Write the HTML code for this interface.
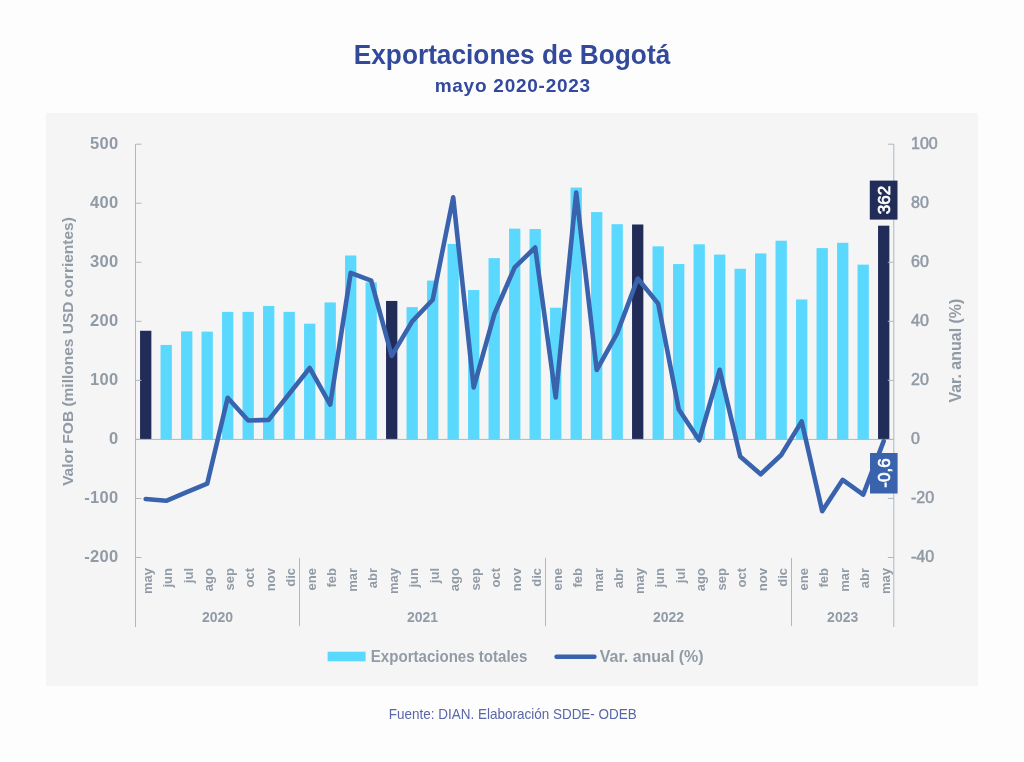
<!DOCTYPE html>
<html><head><meta charset="utf-8"><style>
html,body{margin:0;padding:0;background:#fdfdfd;width:1024px;height:762px;overflow:hidden}
svg{display:block;will-change:transform;font-family:"Liberation Sans",sans-serif}
.lt{font-size:16.5px;font-weight:bold;fill:#919ba6;letter-spacing:0.3px}
.rt{font-size:16px;font-weight:normal;fill:#919ba6;stroke:#919ba6;stroke-width:0.55px}
.mt{font-size:13px;font-weight:bold;fill:#919ba6}
.yt{font-size:14px;font-weight:bold;fill:#919ba6}
.bl{font-size:17px;font-weight:normal;fill:#fff;stroke:#fff;stroke-width:0.7px}
.at{font-size:15.5px;font-weight:bold;fill:#919ba6}
.at2{font-size:16px;font-weight:bold;fill:#919ba6}
.lg{font-size:16.3px;font-weight:bold;fill:#919ba6}
.lg1{letter-spacing:-0.25px}
.lg2{letter-spacing:0.2px}
.title{font-size:27.5px;font-weight:bold;fill:#33499b}
.sub{font-size:19px;font-weight:bold;fill:#33499b;letter-spacing:0.75px}
.src{font-size:15px;fill:#5967a8}
</style></head><body>
<svg width="1024" height="762" viewBox="0 0 1024 762">
<rect x="0" y="0" width="1024" height="762" fill="#fdfdfd"/>
<rect x="46" y="113" width="932" height="573" fill="#f5f5f5"/>
<text transform="translate(512,64.3) scale(0.955,1)" text-anchor="middle" class="title">Exportaciones de Bogotá</text>
<text x="512.8" y="91.9" text-anchor="middle" class="sub">mayo 2020-2023</text>
<rect x="140.05" y="330.77" width="11.3" height="108.63" fill="#212c58"/>
<rect x="160.55" y="344.94" width="11.3" height="94.46" fill="#5bd8fd"/>
<rect x="181.05" y="331.36" width="11.3" height="108.04" fill="#5bd8fd"/>
<rect x="201.55" y="331.65" width="11.3" height="107.75" fill="#5bd8fd"/>
<rect x="222.05" y="311.87" width="11.3" height="127.53" fill="#5bd8fd"/>
<rect x="242.55" y="311.87" width="11.3" height="127.53" fill="#5bd8fd"/>
<rect x="263.05" y="305.97" width="11.3" height="133.43" fill="#5bd8fd"/>
<rect x="283.55" y="311.87" width="11.3" height="127.53" fill="#5bd8fd"/>
<rect x="304.05" y="323.68" width="11.3" height="115.72" fill="#5bd8fd"/>
<rect x="324.55" y="302.43" width="11.3" height="136.97" fill="#5bd8fd"/>
<rect x="345.05" y="255.49" width="11.3" height="183.91" fill="#5bd8fd"/>
<rect x="365.55" y="282.35" width="11.3" height="157.05" fill="#5bd8fd"/>
<rect x="386.05" y="300.95" width="11.3" height="138.45" fill="#212c58"/>
<rect x="406.55" y="307.15" width="11.3" height="132.25" fill="#5bd8fd"/>
<rect x="427.05" y="280.58" width="11.3" height="158.82" fill="#5bd8fd"/>
<rect x="447.55" y="243.98" width="11.3" height="195.42" fill="#5bd8fd"/>
<rect x="468.05" y="290.03" width="11.3" height="149.37" fill="#5bd8fd"/>
<rect x="488.55" y="258.15" width="11.3" height="181.25" fill="#5bd8fd"/>
<rect x="509.05" y="228.63" width="11.3" height="210.77" fill="#5bd8fd"/>
<rect x="529.55" y="229.04" width="11.3" height="210.36" fill="#5bd8fd"/>
<rect x="550.05" y="307.74" width="11.3" height="131.66" fill="#5bd8fd"/>
<rect x="570.55" y="187.54" width="11.3" height="251.86" fill="#5bd8fd"/>
<rect x="591.05" y="212.10" width="11.3" height="227.30" fill="#5bd8fd"/>
<rect x="611.55" y="224.20" width="11.3" height="215.20" fill="#5bd8fd"/>
<rect x="632.05" y="224.49" width="11.3" height="214.91" fill="#212c58"/>
<rect x="652.55" y="246.34" width="11.3" height="193.06" fill="#5bd8fd"/>
<rect x="673.05" y="264.05" width="11.3" height="175.35" fill="#5bd8fd"/>
<rect x="693.55" y="244.27" width="11.3" height="195.13" fill="#5bd8fd"/>
<rect x="714.05" y="254.60" width="11.3" height="184.80" fill="#5bd8fd"/>
<rect x="734.55" y="268.77" width="11.3" height="170.63" fill="#5bd8fd"/>
<rect x="755.05" y="253.42" width="11.3" height="185.98" fill="#5bd8fd"/>
<rect x="775.55" y="240.73" width="11.3" height="198.67" fill="#5bd8fd"/>
<rect x="796.05" y="299.48" width="11.3" height="139.92" fill="#5bd8fd"/>
<rect x="816.55" y="248.11" width="11.3" height="191.29" fill="#5bd8fd"/>
<rect x="837.05" y="242.80" width="11.3" height="196.60" fill="#5bd8fd"/>
<rect x="857.55" y="264.64" width="11.3" height="174.76" fill="#5bd8fd"/>
<rect x="878.05" y="225.68" width="11.3" height="213.72" fill="#212c58"/>
<line x1="135.5" y1="439.4" x2="893.8" y2="439.4" stroke="#b0b7be" stroke-width="1"/>
<line x1="135.5" y1="144" x2="135.5" y2="627" stroke="#b0b7be" stroke-width="1"/>
<line x1="893.8" y1="144" x2="893.8" y2="627" stroke="#b0b7be" stroke-width="1"/>
<line x1="135.5" y1="144.20" x2="141.5" y2="144.20" stroke="#b0b7be" stroke-width="1"/>
<line x1="887.8" y1="144.20" x2="893.8" y2="144.20" stroke="#b0b7be" stroke-width="1"/>
<text x="118.5" y="149.10" text-anchor="end" class="lt">500</text>
<text x="911" y="149.20" class="rt">100</text>
<line x1="135.5" y1="203.24" x2="141.5" y2="203.24" stroke="#b0b7be" stroke-width="1"/>
<line x1="887.8" y1="203.24" x2="893.8" y2="203.24" stroke="#b0b7be" stroke-width="1"/>
<text x="118.5" y="208.14" text-anchor="end" class="lt">400</text>
<text x="911" y="208.24" class="rt">80</text>
<line x1="135.5" y1="262.28" x2="141.5" y2="262.28" stroke="#b0b7be" stroke-width="1"/>
<line x1="887.8" y1="262.28" x2="893.8" y2="262.28" stroke="#b0b7be" stroke-width="1"/>
<text x="118.5" y="267.18" text-anchor="end" class="lt">300</text>
<text x="911" y="267.28" class="rt">60</text>
<line x1="135.5" y1="321.32" x2="141.5" y2="321.32" stroke="#b0b7be" stroke-width="1"/>
<line x1="887.8" y1="321.32" x2="893.8" y2="321.32" stroke="#b0b7be" stroke-width="1"/>
<text x="118.5" y="326.22" text-anchor="end" class="lt">200</text>
<text x="911" y="326.32" class="rt">40</text>
<line x1="135.5" y1="380.36" x2="141.5" y2="380.36" stroke="#b0b7be" stroke-width="1"/>
<line x1="887.8" y1="380.36" x2="893.8" y2="380.36" stroke="#b0b7be" stroke-width="1"/>
<text x="118.5" y="385.26" text-anchor="end" class="lt">100</text>
<text x="911" y="385.36" class="rt">20</text>
<line x1="135.5" y1="439.40" x2="141.5" y2="439.40" stroke="#b0b7be" stroke-width="1"/>
<line x1="887.8" y1="439.40" x2="893.8" y2="439.40" stroke="#b0b7be" stroke-width="1"/>
<text x="118.5" y="444.30" text-anchor="end" class="lt">0</text>
<text x="911" y="444.40" class="rt">0</text>
<line x1="135.5" y1="498.44" x2="141.5" y2="498.44" stroke="#b0b7be" stroke-width="1"/>
<line x1="887.8" y1="498.44" x2="893.8" y2="498.44" stroke="#b0b7be" stroke-width="1"/>
<text x="118.5" y="503.34" text-anchor="end" class="lt">-100</text>
<text x="911" y="503.44" class="rt">-20</text>
<line x1="135.5" y1="557.48" x2="141.5" y2="557.48" stroke="#b0b7be" stroke-width="1"/>
<line x1="887.8" y1="557.48" x2="893.8" y2="557.48" stroke="#b0b7be" stroke-width="1"/>
<text x="118.5" y="562.38" text-anchor="end" class="lt">-200</text>
<text x="911" y="562.48" class="rt">-40</text>
<line x1="299.5" y1="558" x2="299.5" y2="626" stroke="#b0b7be" stroke-width="1"/>
<line x1="545.5" y1="558" x2="545.5" y2="626" stroke="#b0b7be" stroke-width="1"/>
<line x1="791.5" y1="558" x2="791.5" y2="626" stroke="#b0b7be" stroke-width="1"/>
<text transform="translate(151.70,568) rotate(-90)" text-anchor="end" class="mt">may</text>
<text transform="translate(172.20,568) rotate(-90)" text-anchor="end" class="mt">jun</text>
<text transform="translate(192.70,568) rotate(-90)" text-anchor="end" class="mt">jul</text>
<text transform="translate(213.20,568) rotate(-90)" text-anchor="end" class="mt">ago</text>
<text transform="translate(233.70,568) rotate(-90)" text-anchor="end" class="mt">sep</text>
<text transform="translate(254.20,568) rotate(-90)" text-anchor="end" class="mt">oct</text>
<text transform="translate(274.70,568) rotate(-90)" text-anchor="end" class="mt">nov</text>
<text transform="translate(295.20,568) rotate(-90)" text-anchor="end" class="mt">dic</text>
<text transform="translate(315.70,568) rotate(-90)" text-anchor="end" class="mt">ene</text>
<text transform="translate(336.20,568) rotate(-90)" text-anchor="end" class="mt">feb</text>
<text transform="translate(356.70,568) rotate(-90)" text-anchor="end" class="mt">mar</text>
<text transform="translate(377.20,568) rotate(-90)" text-anchor="end" class="mt">abr</text>
<text transform="translate(397.70,568) rotate(-90)" text-anchor="end" class="mt">may</text>
<text transform="translate(418.20,568) rotate(-90)" text-anchor="end" class="mt">jun</text>
<text transform="translate(438.70,568) rotate(-90)" text-anchor="end" class="mt">jul</text>
<text transform="translate(459.20,568) rotate(-90)" text-anchor="end" class="mt">ago</text>
<text transform="translate(479.70,568) rotate(-90)" text-anchor="end" class="mt">sep</text>
<text transform="translate(500.20,568) rotate(-90)" text-anchor="end" class="mt">oct</text>
<text transform="translate(520.70,568) rotate(-90)" text-anchor="end" class="mt">nov</text>
<text transform="translate(541.20,568) rotate(-90)" text-anchor="end" class="mt">dic</text>
<text transform="translate(561.70,568) rotate(-90)" text-anchor="end" class="mt">ene</text>
<text transform="translate(582.20,568) rotate(-90)" text-anchor="end" class="mt">feb</text>
<text transform="translate(602.70,568) rotate(-90)" text-anchor="end" class="mt">mar</text>
<text transform="translate(623.20,568) rotate(-90)" text-anchor="end" class="mt">abr</text>
<text transform="translate(643.70,568) rotate(-90)" text-anchor="end" class="mt">may</text>
<text transform="translate(664.20,568) rotate(-90)" text-anchor="end" class="mt">jun</text>
<text transform="translate(684.70,568) rotate(-90)" text-anchor="end" class="mt">jul</text>
<text transform="translate(705.20,568) rotate(-90)" text-anchor="end" class="mt">ago</text>
<text transform="translate(725.70,568) rotate(-90)" text-anchor="end" class="mt">sep</text>
<text transform="translate(746.20,568) rotate(-90)" text-anchor="end" class="mt">oct</text>
<text transform="translate(766.70,568) rotate(-90)" text-anchor="end" class="mt">nov</text>
<text transform="translate(787.20,568) rotate(-90)" text-anchor="end" class="mt">dic</text>
<text transform="translate(807.70,568) rotate(-90)" text-anchor="end" class="mt">ene</text>
<text transform="translate(828.20,568) rotate(-90)" text-anchor="end" class="mt">feb</text>
<text transform="translate(848.70,568) rotate(-90)" text-anchor="end" class="mt">mar</text>
<text transform="translate(869.20,568) rotate(-90)" text-anchor="end" class="mt">abr</text>
<text transform="translate(889.70,568) rotate(-90)" text-anchor="end" class="mt">may</text>
<text x="217.5" y="622" text-anchor="middle" class="yt">2020</text>
<text x="422.5" y="622" text-anchor="middle" class="yt">2021</text>
<text x="668.5" y="622" text-anchor="middle" class="yt">2022</text>
<text x="842.7" y="622" text-anchor="middle" class="yt">2023</text>
<polyline points="145.70,499.03 166.20,500.80 186.70,492.24 207.20,483.68 227.70,397.78 248.20,420.51 268.70,419.92 289.20,393.94 309.70,367.96 330.20,404.57 350.70,272.91 371.20,280.58 391.70,355.86 412.20,321.32 432.70,299.77 453.20,197.34 473.70,387.44 494.20,314.53 514.70,267.30 535.20,247.52 555.70,397.48 576.20,192.61 596.70,370.03 617.20,333.13 637.70,278.52 658.20,303.61 678.70,409.29 699.20,440.29 719.70,369.73 740.20,456.52 760.70,474.23 781.20,455.05 801.70,421.39 822.20,511.13 842.70,479.84 863.20,494.60 883.70,441.17" fill="none" stroke="#3a63ad" stroke-width="4.6" stroke-linejoin="round" stroke-linecap="round"/>
<rect x="869.8" y="180.6" width="27.7" height="39" fill="#212c58"/>
<text transform="translate(890,200) rotate(-90)" text-anchor="middle" class="bl">362</text>
<rect x="870" y="453" width="27.6" height="40.5" fill="#3a63ad"/>
<text transform="translate(890,473) rotate(-90)" text-anchor="middle" class="bl">-0,6</text>
<text transform="translate(73,351.5) rotate(-90)" text-anchor="middle" class="at">Valor FOB (millones USD corrientes)</text>
<text transform="translate(960.5,350.6) rotate(-90)" text-anchor="middle" class="at2">Var. anual (%)</text>
<rect x="327.6" y="651.7" width="38" height="9.6" fill="#5bd8fd"/>
<text transform="translate(370.8,662) scale(0.925,1)" class="lg">Exportaciones totales</text>
<line x1="556.5" y1="656.7" x2="594.5" y2="656.7" stroke="#3a63ad" stroke-width="4.4" stroke-linecap="round"/>
<text transform="translate(599.8,662) scale(0.98,1)" class="lg">Var. anual (%)</text>
<text transform="translate(512.8,718.6) scale(0.9,1)" text-anchor="middle" class="src">Fuente: DIAN. Elaboración SDDE- ODEB</text>
</svg>
</body></html>
